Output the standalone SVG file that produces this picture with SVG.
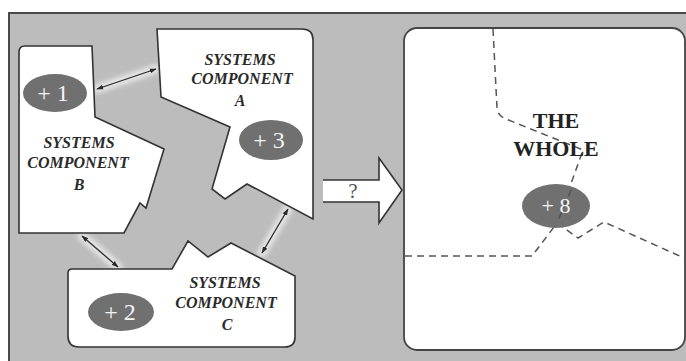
<svg xmlns="http://www.w3.org/2000/svg" width="686" height="361" viewBox="0 0 686 361">
  <defs>
    <style>
      .shape { fill: #ffffff; stroke: #333333; stroke-width: 1.6; stroke-linejoin: miter; }
      .label { font-family: "Liberation Serif", "Times New Roman", serif; font-weight: bold; font-style: italic; font-size: 16px; fill: #2a2a2a; text-anchor: middle; }
      .badge { fill: #707070; }
      .num { font-family: "Liberation Serif", "Times New Roman", serif; font-size: 24px; fill: #f4f4f4; text-anchor: middle; }
      .link { fill: none; stroke: #2a2a2a; stroke-width: 1.3; marker-start: url(#tip); marker-end: url(#tip); }
      .glow { fill: none; stroke: #e6e6e6; stroke-width: 9; stroke-linecap: round; filter: url(#soft); }
      .seam { fill: none; stroke: #555555; stroke-width: 1.5; stroke-dasharray: 7 5; }
    </style>
    <marker id="tip" viewBox="0 0 10 10" refX="9" refY="5" markerWidth="7" markerHeight="7" markerUnits="userSpaceOnUse" orient="auto-start-reverse">
      <path d="M0,1.5 L10,5 L0,8.5 Z" fill="#2a2a2a"/>
    </marker>
    <filter id="soft" x="-50%" y="-50%" width="200%" height="200%">
      <feGaussianBlur stdDeviation="2.5"/>
    </filter>
  </defs>

  <!-- backdrop panel -->
  <rect x="9" y="13" width="690" height="360" fill="#bcbcbc" stroke="#4a4a4a" stroke-width="2"/>

  <!-- connectors between the components -->
  <g id="connectors">
    <path class="glow" d="M97 89 L156 69"/>
    <path class="glow" d="M82 236 L118 267"/>
    <path class="glow" d="M288 209 L262 253"/>
    <path class="link" d="M97 89 L156 69"/>
    <path class="link" d="M82 236 L118 267"/>
    <path class="link" d="M288 209 L262 253"/>
  </g>

  <g id="component-b">
    <path class="shape" d="M19 52 Q19 46 25 46 L92 46 L95 117 L164 149 L146 208 L140 203 L124 233 L19 233 Z"/>
    <ellipse class="badge" cx="55" cy="93" rx="32" ry="19"/>
    <text class="num" x="53" y="101">+ 1</text>
    <text class="label" x="79" y="148">SYSTEMS</text>
    <text class="label" x="78" y="168">COMPONENT</text>
    <text class="label" x="79" y="190">B</text>
  </g>

  <g id="component-a">
    <path class="shape" d="M157 29 L302 29 Q313 29 313 40 L313 219 L247 184 L225 199 L212 189 L230 127 L161 97 Z"/>
    <text class="label" x="240" y="65">SYSTEMS</text>
    <text class="label" x="242" y="84">COMPONENT</text>
    <text class="label" x="240" y="106">A</text>
    <ellipse class="badge" cx="271" cy="140" rx="32" ry="20"/>
    <text class="num" x="269" y="148">+ 3</text>
  </g>

  <g id="component-c">
    <path class="shape" d="M68 273 Q68 269 72 269 L172 269 L188 241 L208 257 L231 243 L295 276 L295 337 Q295 347 285 347 L79 347 Q68 347 68 336 Z"/>
    <ellipse class="badge" cx="121" cy="312" rx="33" ry="19"/>
    <text class="num" x="120" y="320">+ 2</text>
    <text class="label" x="225" y="288">SYSTEMS</text>
    <text class="label" x="226" y="308">COMPONENT</text>
    <text class="label" x="227" y="330">C</text>
  </g>

  <!-- block arrow with question mark -->
  <g id="transition">
    <polygon points="323,180 379,180 379,158 402,190 379,223 379,202 323,202" fill="#ffffff"/>
    <polyline points="323,180 379,180 379,158 402,190 379,223 379,202 323,202" fill="none" stroke="#333333" stroke-width="1.6"/>
    <text x="353" y="198" font-family="Liberation Serif, Times New Roman, serif" font-size="21" fill="#555555" text-anchor="middle">?</text>
  </g>

  <g id="the-whole">
    <rect x="404" y="28" width="281" height="322" rx="13" ry="13" fill="#ffffff" stroke="#444444" stroke-width="1.8"/>
    <path class="seam" d="M493 29 L497 108 Q498 116 506 119 L583 150 L557 223"/>
    <path class="seam" d="M405 256 L532 256 L557 223"/>
    <path class="seam" d="M557 223 L578 238 L604 222 L684 258"/>
    <text x="556" y="128" font-family="Liberation Serif, Times New Roman, serif" font-weight="bold" font-size="22" fill="#222222" text-anchor="middle">THE</text>
    <text x="556" y="156" font-family="Liberation Serif, Times New Roman, serif" font-weight="bold" font-size="22" fill="#222222" text-anchor="middle">WHOLE</text>
    <ellipse class="badge" cx="556" cy="206" rx="34" ry="22"/>
    <path class="seam" d="M571 190 L557 223"/>
    <text x="556" y="213" font-family="Liberation Serif, Times New Roman, serif" font-size="22" fill="#f4f4f4" text-anchor="middle">+ 8</text>
  </g>
</svg>
